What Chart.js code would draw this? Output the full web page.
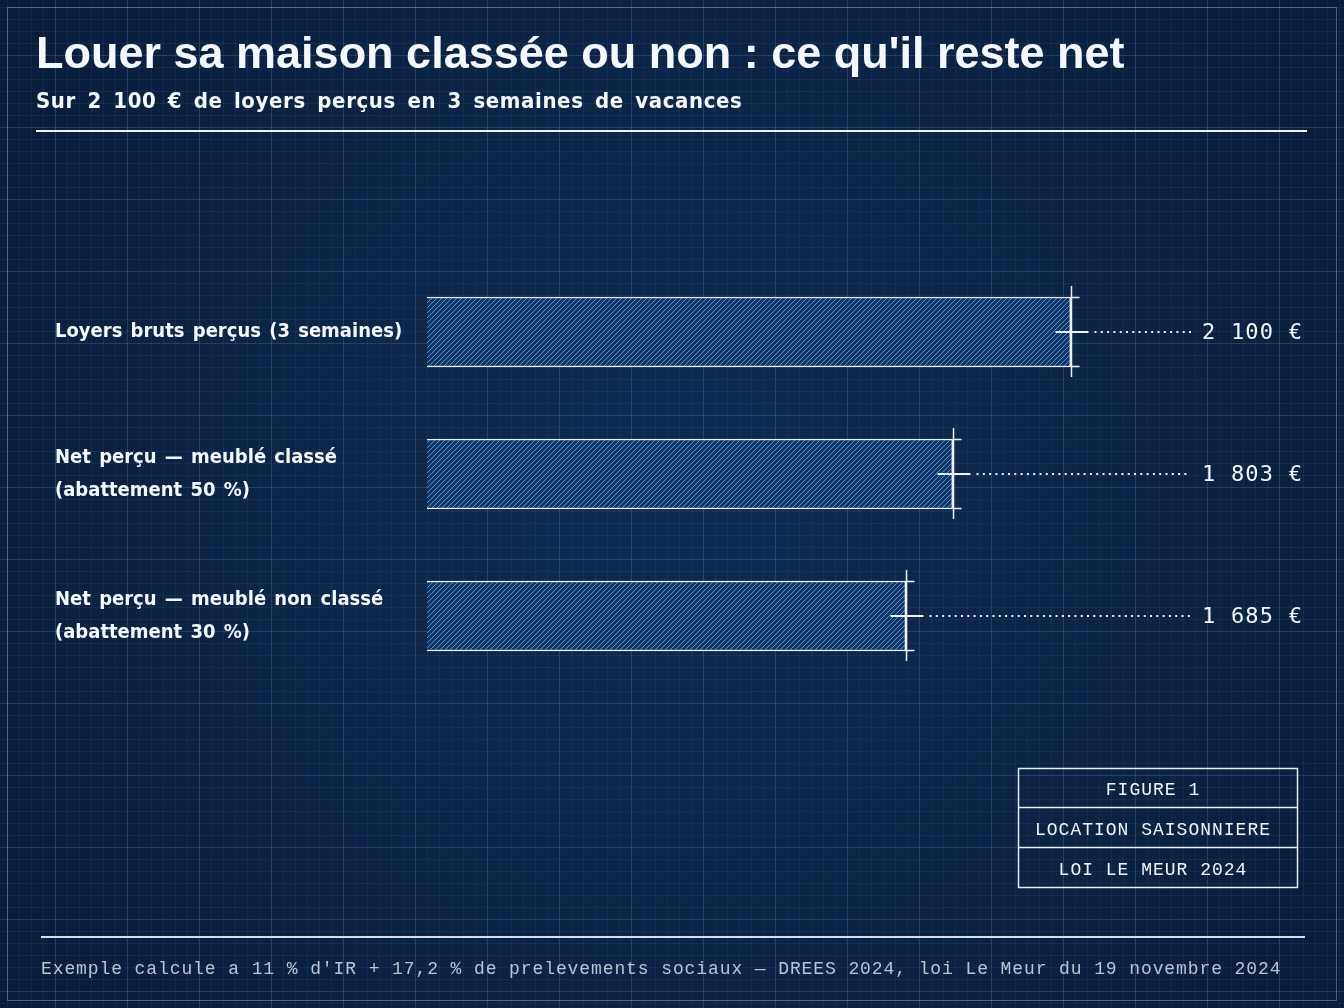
<!DOCTYPE html>
<html>
<head>
<meta charset="utf-8">
<script src="https://cdn.jsdelivr.net/npm/chart.js@4.4.1/dist/chart.umd.min.js"></script>
<style>
  html, body { margin: 0; padding: 0; background: #0b2142; }
  #wrap { width: 1344px; height: 1008px; }
</style>
</head>
<body>
<div id="wrap"><canvas id="chart" width="1344" height="1008"></canvas></div>
<script>
// data
const categories = [
  'Loyers bruts perçus (3 semaines)',
  ['Net perçu — meublé classé', '(abattement 50 %)'],
  ['Net perçu — meublé non classé', '(abattement 30 %)']
];
const values = [2100, 1803, 1685];
const valueLabels = ['2 100 €', '1 803 €', '1 685 €'];
const axisMin = 480;
const axisMax = 2400;

const title = "Louer sa maison classée ou non : ce qu'il reste net";
const subtitle = 'Sur 2 100 € de loyers perçus en 3 semaines de vacances';
const boxLines = ['FIGURE 1', 'LOCATION SAISONNIERE', 'LOI LE MEUR 2024'];
const footnote = "Exemple calcule a 11 % d'IR + 17,2 % de prelevements sociaux — DREES 2024, loi Le Meur du 19 novembre 2024";

const W = 1344, H = 1008;
const LABEL_FONT = '"DejaVu Sans Condensed", "Noto Sans", sans-serif';
const MONO = '"Liberation Mono", "DejaVu Sans Mono", monospace';

// hatched fill for the bars
function hatch() {
  const c = document.createElement('canvas');
  c.width = 5; c.height = 5;
  const g = c.getContext('2d');
  g.fillStyle = '#133564';
  g.fillRect(0, 0, 5, 5);
  g.strokeStyle = '#4d93dc';
  g.lineWidth = 1;
  g.beginPath();
  g.moveTo(0, 5); g.lineTo(5, 0);
  g.moveTo(-2.5, 2.5); g.lineTo(2.5, -2.5);
  g.moveTo(2.5, 7.5); g.lineTo(7.5, 2.5);
  g.stroke();
  return g.createPattern(c, 'repeat');
}

const blueprint = {
  id: 'blueprint',
  beforeDraw(chart) {
    const ctx = chart.ctx;
    ctx.save();
    const grad = ctx.createRadialGradient(W / 2, H / 2, 100, W / 2, H / 2, 900);
    grad.addColorStop(0, '#0f2a50');
    grad.addColorStop(1, '#091c38');
    ctx.fillStyle = grad;
    ctx.fillRect(0, 0, W, H);
    // minor grid
    ctx.lineWidth = 1;
    ctx.strokeStyle = 'rgba(120,160,210,0.09)';
    ctx.beginPath();
    for (let x = 7; x < W; x += 12) { ctx.moveTo(x + 0.5, 0); ctx.lineTo(x + 0.5, H); }
    for (let y = 7; y < H; y += 12) { ctx.moveTo(0, y + 0.5); ctx.lineTo(W, y + 0.5); }
    ctx.stroke();
    // major grid
    ctx.strokeStyle = 'rgba(150,185,230,0.13)';
    ctx.beginPath();
    for (let x = 55; x < W; x += 72) { ctx.moveTo(x + 0.5, 0); ctx.lineTo(x + 0.5, H); }
    for (let y = 55; y < H; y += 72) { ctx.moveTo(0, y + 0.5); ctx.lineTo(W, y + 0.5); }
    ctx.stroke();
    // frame
    ctx.strokeStyle = 'rgba(200,220,240,0.35)';
    ctx.strokeRect(7.5, 7.5, W - 15, H - 15);
    ctx.restore();
    ctx.wordSpacing = '2px';
  },
  afterDatasetsDraw(chart) {
    const ctx = chart.ctx;
    const right = chart.chartArea.right;
    ctx.save();
    ctx.wordSpacing = '0px';
    chart.getDatasetMeta(0).data.forEach((bar, i) => {
      const x = Math.round(bar.x) + 0.5;
      const top = bar.y - bar.height / 2;
      const bot = bar.y + bar.height / 2;
      ctx.strokeStyle = '#eef3f8';
      ctx.lineWidth = 1.5;
      ctx.beginPath();
      ctx.moveTo(x, top - 11); ctx.lineTo(x, bot + 10);
      ctx.moveTo(x, top + 0.5); ctx.lineTo(x + 8, top + 0.5);
      ctx.moveTo(x, bot - 0.5); ctx.lineTo(x + 8, bot - 0.5);
      ctx.stroke();
      ctx.lineWidth = 2;
      ctx.beginPath();
      ctx.moveTo(x - 16, bar.y); ctx.lineTo(x + 17, bar.y);
      ctx.stroke();
      // dotted leader
      ctx.fillStyle = '#e6edf5';
      for (let dx = x + 23; dx < right; dx += 6.3) ctx.fillRect(dx, bar.y - 1, 2, 2);
      // value
      ctx.font = '22px "DejaVu Sans Mono", monospace';
      ctx.letterSpacing = '1.2px';
      ctx.fillStyle = '#f2f6fa';
      ctx.textBaseline = 'middle';
      ctx.textAlign = 'left';
      ctx.fillText(valueLabels[i], right + 12, bar.y + 1);
    });
    ctx.restore();
  },
  afterDraw(chart) {
    const ctx = chart.ctx;
    ctx.save();
    ctx.wordSpacing = '0px';
    ctx.fillStyle = '#f4f7fb';
    ctx.textBaseline = 'alphabetic';
    ctx.textAlign = 'left';
    ctx.font = 'bold 45px "Liberation Sans", Arial, sans-serif';
    ctx.fillText(title, 36, 68);
    ctx.font = '600 22px ' + LABEL_FONT;
    ctx.wordSpacing = '4px';
    ctx.letterSpacing = '0.6px';
    ctx.fillText(subtitle, 36, 108);
    ctx.wordSpacing = '0px';
    ctx.letterSpacing = '0px';
    ctx.strokeStyle = '#eef3f8';
    ctx.lineWidth = 2;
    ctx.beginPath();
    ctx.moveTo(36, 131); ctx.lineTo(1307, 131);
    ctx.stroke();

    // figure box
    ctx.strokeStyle = '#e8eef5';
    ctx.lineWidth = 1.5;
    ctx.strokeRect(1018.5, 768.5, 279, 119);
    ctx.beginPath();
    ctx.moveTo(1018, 807.5); ctx.lineTo(1297, 807.5);
    ctx.moveTo(1018, 847.5); ctx.lineTo(1297, 847.5);
    ctx.stroke();
    ctx.font = '18px ' + MONO;
    ctx.letterSpacing = '1px';
    ctx.textAlign = 'center';
    ctx.fillStyle = '#eef3f8';
    boxLines.forEach((t, i) => ctx.fillText(t, 1153, 795 + i * 40));

    // footer
    ctx.strokeStyle = '#d6dfea';
    ctx.lineWidth = 2;
    ctx.beginPath();
    ctx.moveTo(41, 937); ctx.lineTo(1305, 937);
    ctx.stroke();
    ctx.textAlign = 'left';
    ctx.fillStyle = '#b9c4d2';
    ctx.font = '18px ' + MONO;
    ctx.letterSpacing = '0.9px';
    ctx.fillText(footnote, 41, 974);
    ctx.restore();
  }
};

new Chart(document.getElementById('chart'), {
  type: 'bar',
  data: {
    labels: categories,
    datasets: [{
      data: values,
      backgroundColor: hatch(),
      borderColor: '#eef3f8',
      borderWidth: 1.5,
      borderSkipped: false,
      barThickness: 70
    }]
  },
  options: {
    indexAxis: 'y',
    responsive: false,
    animation: false,
    devicePixelRatio: 1,
    layout: { padding: { left: 55, right: 154, top: 261, bottom: 321 } },
    plugins: { legend: { display: false }, tooltip: { enabled: false } },
    scales: {
      x: { display: false, min: axisMin, max: axisMax },
      y: {
        grid: { display: false },
        border: { display: false },
        afterFit(scale) { scale.width = 372; },
        ticks: {
          crossAlign: 'far',
          color: '#f4f7fb',
          font: { family: LABEL_FONT, size: 20, weight: '600', lineHeight: 1.65 }
        }
      }
    }
  },
  plugins: [blueprint]
});
</script>
</body>
</html>
